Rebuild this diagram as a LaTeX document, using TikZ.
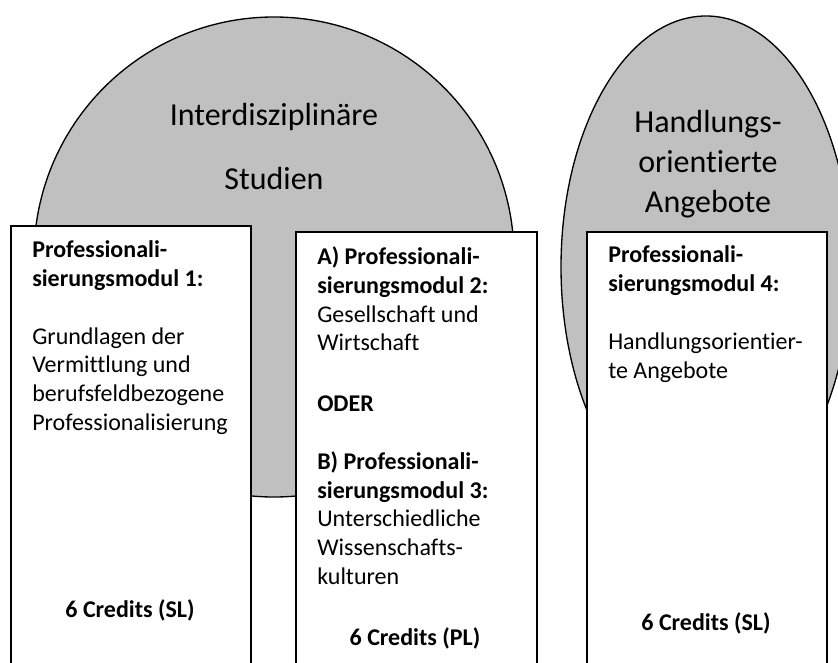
\documentclass[tikz,border=0pt]{standalone}
\usepackage{fontspec}
\setmainfont{Carlito}[Ligatures={NoCommon,NoRare,NoDiscretionary}]
\usetikzlibrary{positioning,shapes}
\definecolor{fieldgray}{RGB}{192,192,192}

\begin{document}
\begin{tikzpicture}[x=0.75pt,y=-0.75pt,
		field/.style={draw,fill=fieldgray,line width=1pt,inner sep=0},
		module/.style={rectangle,draw,fill=white,line width=1.2pt,anchor=north west,
			minimum width=180pt,minimum height=360pt},
		title/.style={align=center,anchor=base,inner sep=0},
		leaf/.style={align=left,anchor=base west,inner sep=0,font=\fontsize{18}{21.5}\selectfont},
		credits/.style={anchor=base,inner sep=0,font=\fontsize{18}{21.5}\selectfont\bfseries}]
	\clip (0,0) rectangle (838,663);
	% Study areas
	\node[field,circle,minimum size=360pt] (studien) at (274,257) {};
	\node[field,ellipse,minimum width=217.5pt,minimum height=376.5pt] (angebote) at (706,267) {};
	\node[title,font=\fontsize{24}{48}\selectfont] (studientitle) at (274,190) {Interdisziplinäre\\Studien};
	\node[title,font=\fontsize{24}{30}\selectfont] (angebotetitle) at (708,212) {Handlungs-\\orientierte\\Angebote};
	% Modules
	\node[module] (pm1) at (10,225) {};
	\node[module,minimum width=181pt] (pm23) at (295,231) {};
	\node[module] (pm4) at (586,231) {};
	\node[leaf] (pm1text) at (32,430) {\textbf{Professionali-}\\\textbf{sierungsmodul 1:}\\[22pt]
		Grundlagen der\\Vermittlung und\\berufsfeldbezogene\\Professionalisierung};
	\node[leaf] (pm23text) at (317,584) {\textbf{A) Professionali-}\\\textbf{sierungsmodul 2:}\\
		Gesellschaft und\\Wirtschaft\\[24pt]\textbf{ODER}\\[22pt]
		\textbf{B) Professionali-}\\\textbf{sierungsmodul 3:}\\Unterschiedliche\\Wissenschafts-\\kulturen};
	\node[leaf] (pm4text) at (608,378) {\textbf{Professionali-}\\\textbf{sierungsmodul 4:}\\[22pt]
		Handlungsorientier-\\te Angebote};
	% Credits
	\node[credits] (pm1credits) at (130,617) {6 Credits (SL)};
	\node[credits] (pm23credits) at (415,645) {6 Credits (PL)};
	\node[credits] (pm4credits) at (706,630) {6 Credits (SL)};
\end{tikzpicture}
\end{document}
